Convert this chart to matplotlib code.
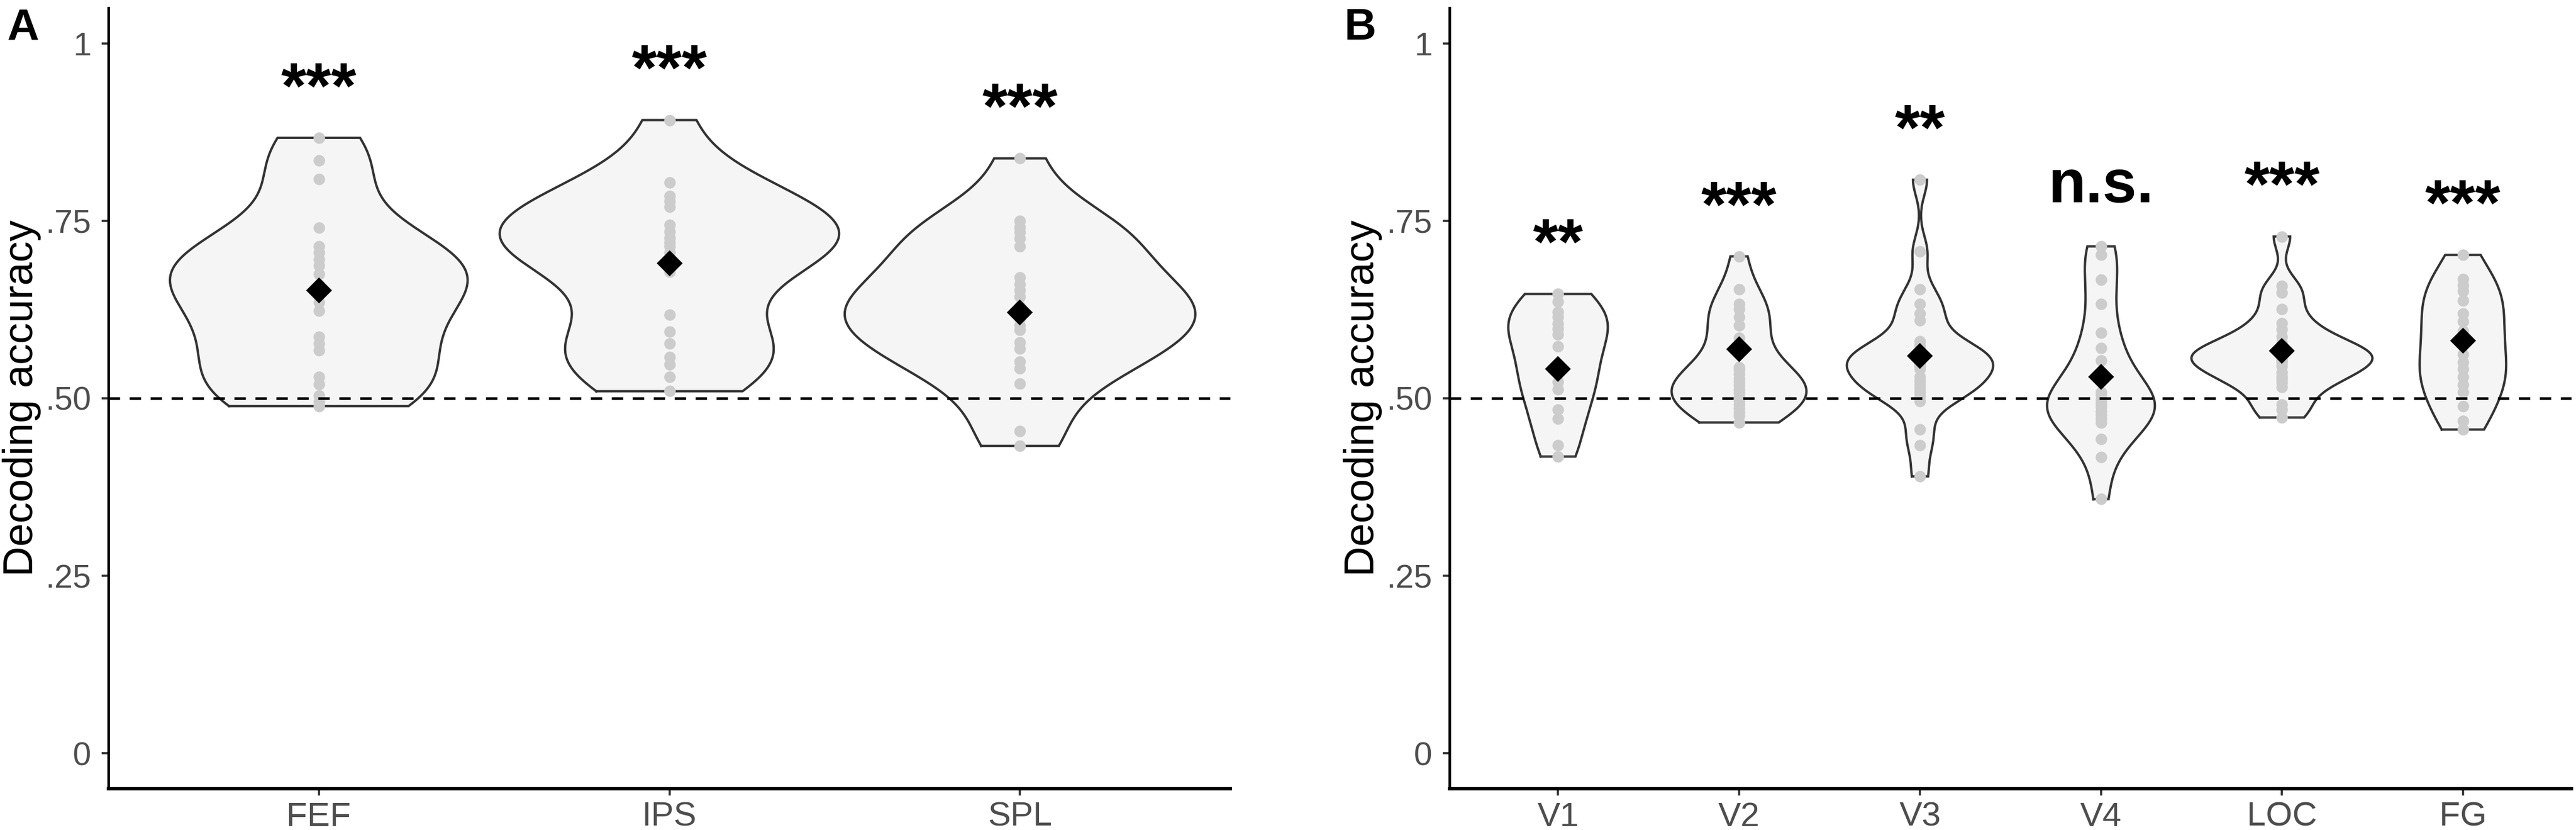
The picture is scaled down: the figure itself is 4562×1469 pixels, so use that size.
import numpy as np
import matplotlib
matplotlib.use('Agg')
import matplotlib.pyplot as plt

plt.rcParams['font.family'] = ['Liberation Sans', 'DejaVu Sans']

# ---------------- data ----------------
regions_a = ['FEF', 'IPS', 'SPL']
fef = [0.867, 0.835, 0.809, 0.740, 0.714, 0.705, 0.696, 0.687, 0.675, 0.660,
       0.650, 0.635, 0.623, 0.587, 0.577, 0.568, 0.530, 0.520, 0.504, 0.495, 0.489]
ips = [0.892, 0.804, 0.785, 0.778, 0.770, 0.744, 0.735, 0.726, 0.720, 0.714,
       0.705, 0.695, 0.678, 0.618, 0.594, 0.577, 0.558, 0.548, 0.530, 0.510]
spl = [0.838, 0.750, 0.741, 0.734, 0.725, 0.714, 0.670, 0.661, 0.652, 0.643,
       0.630, 0.625, 0.612, 0.603, 0.596, 0.579, 0.570, 0.552, 0.542, 0.521,
       0.454, 0.433]
means_a = [0.652, 0.690, 0.621]
sig_a = ['***', '***', '***']

regions_b = ['V1', 'V2', 'V3', 'V4', 'LOC', 'FG']
v1 = [0.647, 0.636, 0.622, 0.615, 0.605, 0.598, 0.590, 0.573, 0.545, 0.535,
      0.523, 0.513, 0.484, 0.471, 0.434, 0.418]
v2 = [0.700, 0.654, 0.633, 0.626, 0.615, 0.603, 0.585, 0.570, 0.544, 0.540,
      0.534, 0.528, 0.523, 0.518, 0.513, 0.508, 0.502, 0.497, 0.491, 0.486,
      0.480, 0.475, 0.466]
v3 = [0.808, 0.707, 0.654, 0.633, 0.619, 0.610, 0.580, 0.575, 0.570, 0.565,
      0.560, 0.555, 0.550, 0.548, 0.545, 0.541, 0.530, 0.525, 0.519, 0.514,
      0.509, 0.503, 0.496, 0.456, 0.434, 0.390]
v4 = [0.714, 0.702, 0.667, 0.633, 0.592, 0.571, 0.553, 0.530, 0.509, 0.505,
      0.498, 0.493, 0.488, 0.482, 0.477, 0.471, 0.466, 0.443, 0.417, 0.358]
loc = [0.728, 0.658, 0.649, 0.626, 0.606, 0.597, 0.587, 0.578, 0.570, 0.568,
       0.565, 0.562, 0.560, 0.555, 0.553, 0.551, 0.545, 0.537, 0.531,
       0.527, 0.522, 0.516, 0.491, 0.484, 0.473]
fg = [0.702, 0.668, 0.659, 0.651, 0.638, 0.619, 0.608, 0.595, 0.585, 0.562,
      0.551, 0.541, 0.530, 0.519, 0.509, 0.489, 0.468, 0.456]
means_b = [0.541, 0.569, 0.560, 0.530, 0.567, 0.581]
sig_b = ['**', '***', '**', 'n.s.', '***', '***']

chance = 0.5
y_ticks = [0, 0.25, 0.5, 0.75, 1]
y_tick_labels = ['0', '.25', '.50', '.75', '1']

# ---------------- helpers ----------------
BW_ADJUST = 1.0


def bw_nrd0(x):
    x = np.asarray(x, float)
    sd = x.std(ddof=1)
    q75, q25 = np.percentile(x, [75, 25])
    lo = min(sd, (q75 - q25) / 1.34)
    if lo <= 0:
        lo = sd
    return 0.9 * lo * len(x) ** -0.2


def kde(x, grid):
    x = np.asarray(x, float)
    bw = bw_nrd0(x) * BW_ADJUST
    z = (grid[:, None] - x[None, :]) / bw
    return np.exp(-0.5 * z ** 2).sum(axis=1) / (len(x) * bw * np.sqrt(2 * np.pi))


TICK_GREY = '#4D4D4D'
VIOLIN_WIDTH = 1.0


def draw_panel(ax, names, data, means, sigs):
    n = len(names)
    grids, dens = [], []
    for vals in data:
        g = np.linspace(min(vals), max(vals), 512)
        grids.append(g)
        dens.append(kde(vals, g))
    dmax = max(d.max() for d in dens)
    for i, (vals, g, d) in enumerate(zip(data, grids, dens), start=1):
        hw = d / dmax * 0.5 * VIOLIN_WIDTH
        ax.fill_betweenx(g, i - hw, i + hw, facecolor='#F5F5F5',
                         edgecolor='none', zorder=2)
        xs = np.concatenate([i - hw, (i + hw)[::-1], [i - hw[0]]])
        ys = np.concatenate([g, g[::-1], [g[0]]])
        ax.plot(xs, ys, color='#333333', lw=1.0, zorder=3,
                solid_joinstyle='miter')
        ax.scatter(np.full(len(vals), i), vals, s=24, color='#CCCCCC',
                   linewidths=0, zorder=4)
    ax.axhline(chance, color='black', lw=1.1, ls=(0, (4.4, 3.7)), zorder=4.5)
    ax.plot(np.arange(1, n + 1), means, linestyle='none', marker='D',
            color='black', ms=6.8, zorder=5)
    for i, (vals, s) in enumerate(zip(data, sigs), start=1):
        off = 0.062 if s == 'n.s.' else 0.043
        ax.text(i, max(vals) + off, s, ha='center', va='baseline',
                fontsize=26 if s == 'n.s.' else 27.5, fontweight='bold',
                color='black', zorder=6)

    ax.set_xlim(0.4, n + 0.6)
    ax.set_ylim(-0.05, 1.05)
    ax.set_xticks(np.arange(1, n + 1))
    ax.set_xticklabels(names)
    ax.set_yticks(y_ticks)
    ax.set_yticklabels(y_tick_labels)
    ax.tick_params(axis='both', colors='#333333', length=2.8, width=0.9,
                   labelcolor=TICK_GREY)
    ax.tick_params(axis='y', labelsize=14, pad=4.5)
    ax.tick_params(axis='x', labelsize=14.5, pad=2.6)
    for sp in ('top', 'right'):
        ax.spines[sp].set_visible(False)
    ax.spines['left'].set_linewidth(1.1)
    ax.spines['bottom'].set_linewidth(1.4)
    ax.set_ylabel('Decoding accuracy', fontsize=17.8, color='black')
    ax.yaxis.set_label_coords(-0.06, 0.5)
    ax.set_facecolor('white')


W, H = 4562, 1469
fig = plt.figure(figsize=(W / 300, H / 300), dpi=300)
ax_a = fig.add_axes([192 / W, (H - 1396) / H, 1987 / W, 1382 / H])
ax_b = fig.add_axes([2567 / W, (H - 1396) / H, 1987 / W, 1382 / H])

draw_panel(ax_a, regions_a, [fef, ips, spl], means_a, sig_a)
draw_panel(ax_b, regions_b, [v1, v2, v3, v4, loc, fg], means_b, sig_b)

fig.text(12 / W, 1 - 13 / H, 'A', fontsize=18.8, fontweight='bold',
         ha='left', va='top')
fig.text(2381 / W, 1 - 13 / H, 'B', fontsize=18.8, fontweight='bold',
         ha='left', va='top')

fig.savefig('out.png', dpi=300, facecolor='white')
